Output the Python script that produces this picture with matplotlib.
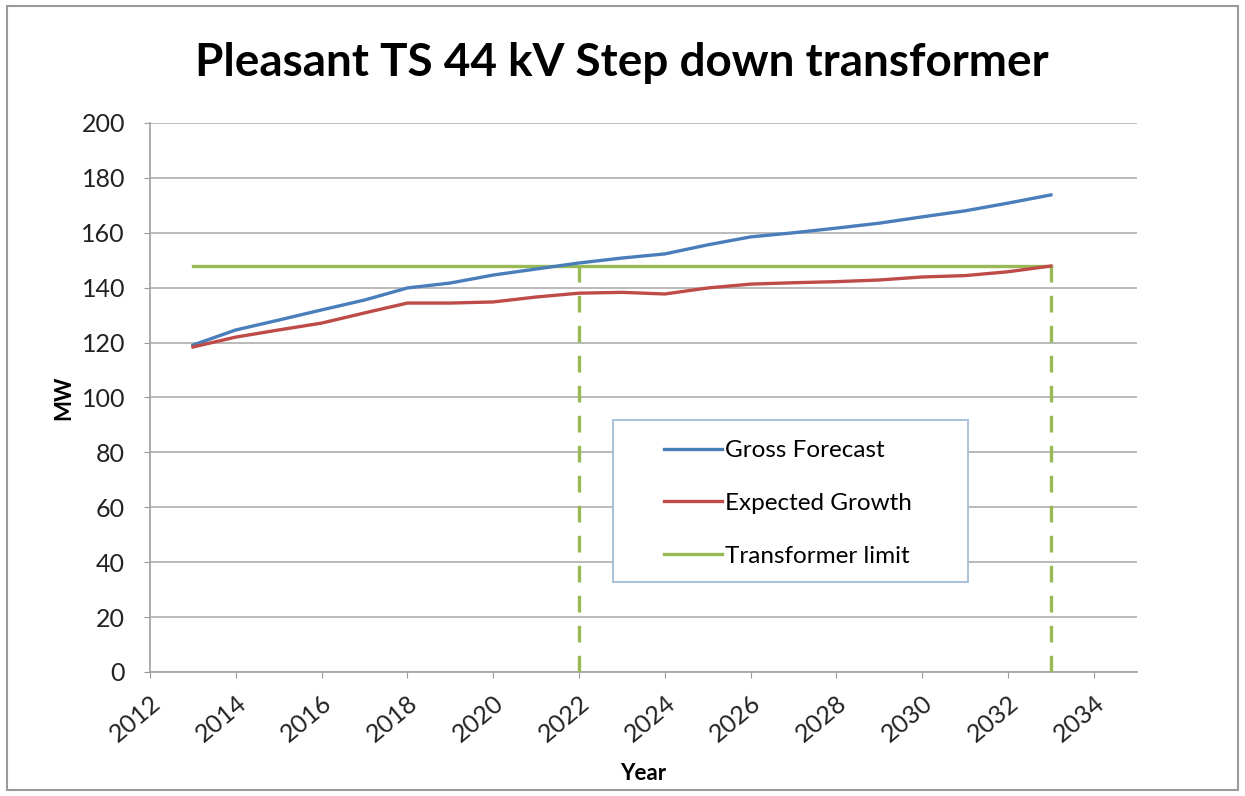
import matplotlib.pyplot as plt
from matplotlib.patches import Rectangle

# Data
years = list(range(2013, 2034))
gross_forecast = [119.1, 124.6, 128.2, 131.9, 135.5, 139.9, 141.7, 144.6, 146.8, 149.0,
                  150.8, 152.3, 155.6, 158.5, 160.0, 161.7, 163.5, 165.8, 168.0, 170.8, 173.8]
expected_growth = [118.4, 122.0, 124.6, 127.1, 130.8, 134.4, 134.4, 134.8, 136.6, 138.0,
                   138.3, 137.7, 139.9, 141.3, 141.8, 142.2, 142.8, 143.9, 144.4, 145.8, 147.9]
transformer_limit = 148
limit_years = [2022, 2033]  # where the forecasts meet the limit

plt.rcParams['font.family'] = ['Lato', 'DejaVu Sans']

fig = plt.figure(figsize=(12.45, 7.96), dpi=100)
fig.patches.append(Rectangle((0.006, 0.008), 0.988, 0.984, transform=fig.transFigure,
                             fill=False, edgecolor='#9a9a9a', linewidth=1.5))
ax = fig.add_axes([0.1205, 0.1558, 0.7925, 0.6897])

blue = '#4a7ebb'
red = '#be4b48'
green = '#98b954'

ax.plot(years, gross_forecast, color=blue, lw=2.4, label='Gross Forecast', zorder=4)
ax.plot(years, expected_growth, color=red, lw=2.4, label='Expected Growth', zorder=4)
ax.plot([years[0], years[-1]], [transformer_limit, transformer_limit], color=green, lw=2.4,
        label='Transformer limit', zorder=3)
for yr in limit_years:
    ax.plot([yr, yr], [0, transformer_limit], color=green, lw=2.4, ls=(0, (5, 4)), zorder=3)

ax.set_xlim(2012, 2035)
ax.set_ylim(0, 200)
ax.set_xticks(range(2012, 2035, 2))
ax.set_yticks(range(0, 201, 20))
ax.tick_params(axis='both', labelsize=18, colors='#222222', length=4, color='#999999')
ax.tick_params(axis='y', pad=14)
ax.tick_params(axis='x', pad=10)
for lbl in ax.get_xticklabels():
    lbl.set_rotation(40)
    lbl.set_ha('right')
    lbl.set_rotation_mode('anchor')

ax.grid(axis='y', color='#b4b4b4', lw=1.3)
ax.set_axisbelow(True)
for side in ['top', 'right']:
    ax.spines[side].set_visible(False)
for side in ['left', 'bottom']:
    ax.spines[side].set_color('#a6a6a6')
    ax.spines[side].set_linewidth(1.3)

ax.set_xlabel('Year', fontsize=16, fontweight='bold', labelpad=12)
ax.set_ylabel('MW', fontsize=16, fontweight='bold', labelpad=5)
ax.set_title('Pleasant TS 44 kV Step down transformer', fontsize=33, fontweight='bold',
             pad=34, x=0.478)

# legend box is wider than its contents in the reference, so draw it separately
ax.add_patch(Rectangle((0.469, 0.164), 0.36, 0.295, transform=ax.transAxes,
                       facecolor='white', edgecolor='#a4bcd8', lw=1.3, zorder=5))
leg = ax.legend(loc='upper left', bbox_to_anchor=(0.521, 0.422), fontsize=17.5,
                frameon=False, handlelength=2.4, handletextpad=0.1,
                labelspacing=1.3, borderpad=0, borderaxespad=0)
leg.set_zorder(6)

fig.savefig('out.png', dpi=100)
